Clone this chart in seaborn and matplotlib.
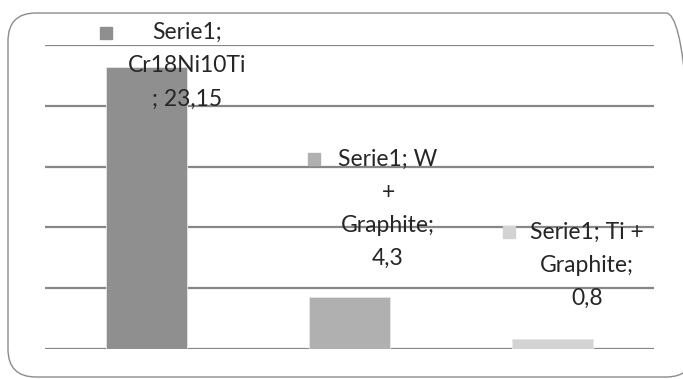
import matplotlib
matplotlib.use("Agg")
import matplotlib.pyplot as plt
import seaborn as sns
import pandas as pd
from matplotlib.patches import FancyBboxPatch

# Data
categories = ["Cr18Ni10Ti", "W + Graphite", "Ti + Graphite"]
values = [23.15, 4.3, 0.8]
bar_colors = ["#8f8f8f", "#b0b0b0", "#d3d3d3"]
label_lines = [
    ["Serie1;", "Cr18Ni10Ti", "; 23,15"],
    ["Serie1; W", "+", "Graphite;", "4,3"],
    ["Serie1; Ti +", "Graphite;", "0,8"],
]

sns.set_style("white")
plt.rcParams["font.family"] = ["Lato", "DejaVu Sans"]

df = pd.DataFrame({"cat": categories, "val": values})

fig = plt.figure(figsize=(6.83, 3.79), dpi=100)
ax = fig.add_axes([0.0659, 0.0792, 0.8917, 0.8021])

sns.barplot(data=df, x="cat", y="val", hue="cat", palette=bar_colors,
            width=0.4, legend=False, ax=ax, edgecolor="#e6e6e6", linewidth=0.6,
            zorder=3)

ax.set_xlim(-0.5, 2.5)
ax.set_ylim(0, 25)
ax.set_yticks([0, 5, 10, 15, 20, 25])
ax.yaxis.grid(True, color="#878787", linewidth=1.6, zorder=0)
ax.set_axisbelow(True)
ax.tick_params(left=False, bottom=False, labelleft=False, labelbottom=False)
ax.set_xlabel("")
ax.set_ylabel("")
sns.despine(ax=ax, left=True, bottom=True)

# data labels with legend keys
label_pos = [(0.2, 26.0), (1.19, 15.6), (2.17, 9.6)]
key_pos = [(-0.2, 26.0), (0.825, 15.6), (1.786, 9.6)]
step = 2.72
for i, lines in enumerate(label_lines):
    lx, ly = label_pos[i]
    for j, line in enumerate(lines):
        ax.text(lx, ly - j * step, line, ha="center", va="center",
                fontsize=16.5, color="#262626", clip_on=False, zorder=5)
    kx, ky = key_pos[i]
    ax.plot([kx], [ky], marker="s", markersize=9, color=bar_colors[i],
            linestyle="none", clip_on=False, zorder=5)

# rounded chart border (pixel coords)
border = FancyBboxPatch((8, 2), 686, 364, boxstyle="round,pad=0,rounding_size=28",
                        transform=None, facecolor="none", edgecolor="#8c8c8c",
                        linewidth=1.0)
fig.patches.append(border)

fig.savefig("out.png", dpi=100)
plt.close(fig)
